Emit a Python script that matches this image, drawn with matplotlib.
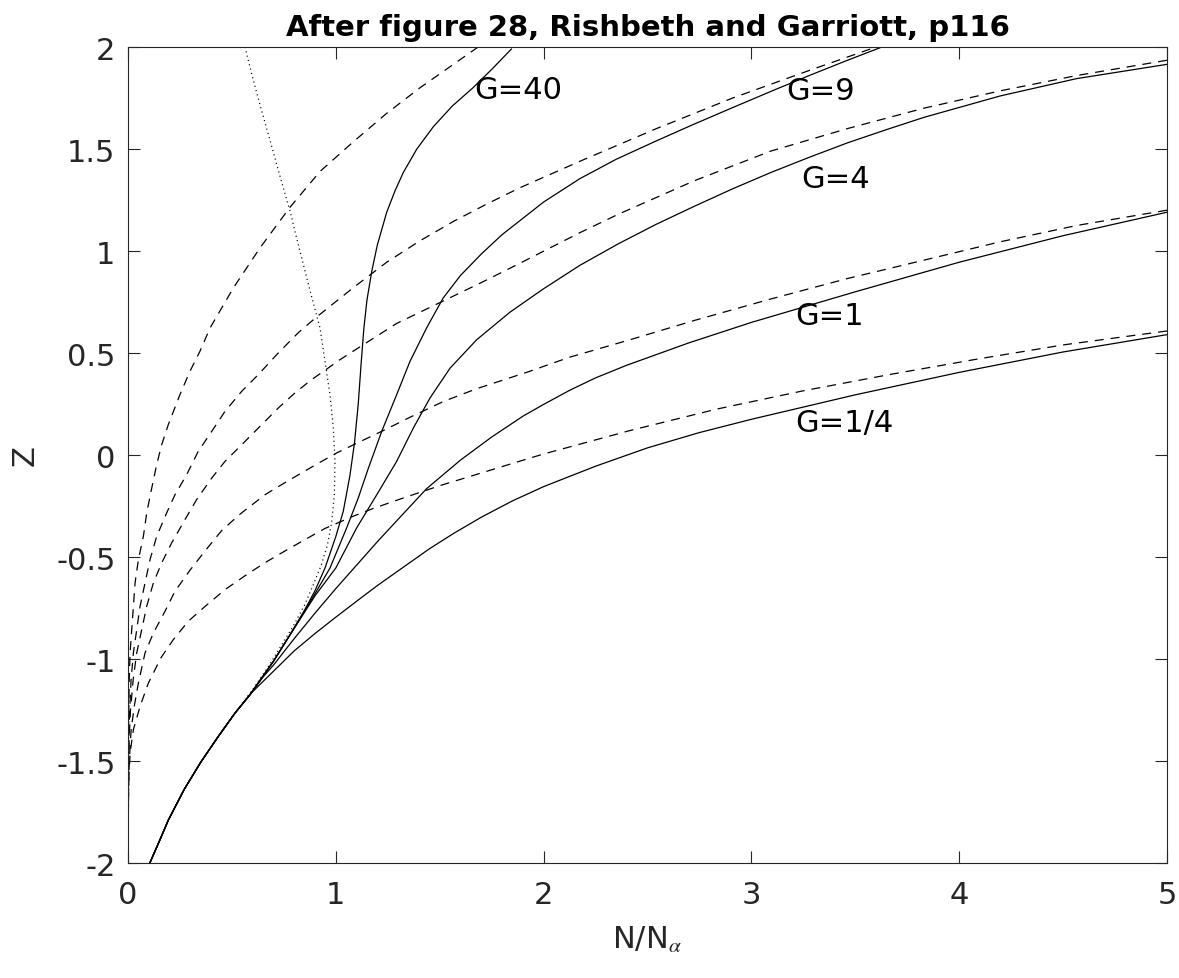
import matplotlib
matplotlib.use("Agg")
import matplotlib.pyplot as plt
from matplotlib.ticker import FuncFormatter

# shared low branch of all solid curves (x = N/Nalpha, z = Z)
base_x = [0.105, 0.15, 0.194, 0.27, 0.35, 0.435, 0.515, 0.587]
base_z = [-2.0, -1.895, -1.79, -1.64, -1.506, -1.379, -1.265, -1.175]

# solid curves above the shared branch
g40_x = [0.7, 0.78, 0.85, 0.9, 0.948, 1.0, 1.036, 1.068, 1.09, 1.108, 1.122, 1.135, 1.15,
         1.173, 1.2, 1.245, 1.285, 1.325, 1.39, 1.47, 1.56, 1.66, 1.75, 1.845]
g40_z = [-1.011, -0.881, -0.76, -0.665, -0.554, -0.40, -0.276, -0.1, 0.06, 0.25, 0.45, 0.62, 0.76,
         0.9, 1.03, 1.19, 1.295, 1.385, 1.5, 1.61, 1.71, 1.8, 1.89, 1.99]

g9_x = [0.7, 0.78, 0.85, 0.9, 0.972, 1.052, 1.108, 1.157, 1.221, 1.293, 1.357, 1.437, 1.517,
        1.6, 1.7, 1.8, 2.0, 2.175, 2.35, 2.543, 2.72, 2.91, 3.1, 3.278, 3.45, 3.628]
g9_z = [-1.011, -0.881, -0.765, -0.68, -0.554, -0.358, -0.211, -0.064, 0.116, 0.296, 0.459, 0.623, 0.77,
        0.88, 0.985, 1.08, 1.24, 1.355, 1.45, 1.54, 1.62, 1.703, 1.785, 1.86, 1.93, 2.0]

g4_x = [0.7, 0.78, 0.85, 0.9, 1.0, 1.1, 1.197, 1.293, 1.373, 1.453, 1.55, 1.678, 1.838, 2.0,
        2.175, 2.359, 2.54, 2.727, 2.91, 3.094, 3.28, 3.462, 3.65, 3.83, 4.197, 4.565, 5.0]
g4_z = [-1.011, -0.881, -0.77, -0.69, -0.554, -0.358, -0.195, -0.031, 0.132, 0.279, 0.426, 0.565, 0.7, 0.815,
        0.93, 1.035, 1.13, 1.22, 1.305, 1.385, 1.46, 1.53, 1.595, 1.655, 1.76, 1.845, 1.915]

g1_x = [0.65, 0.7, 0.8, 0.9, 1.0, 1.1, 1.2, 1.3, 1.437, 1.6, 1.75, 1.9, 2.0, 2.127, 2.25, 2.4, 2.7,
        3.0, 3.5, 4.0, 4.5, 5.0]
g1_z = [-1.088, -1.03, -0.9, -0.775, -0.655, -0.54, -0.425, -0.315, -0.165, -0.025, 0.088, 0.19, 0.248, 0.318, 0.378, 0.44, 0.55,
        0.65, 0.8, 0.945, 1.075, 1.19]

gq_x = [0.6, 0.7, 0.8, 0.9, 1.0, 1.1, 1.2, 1.325, 1.45, 1.566, 1.7, 1.85, 2.0, 2.25, 2.5,
        2.75, 3.0, 3.5, 4.0, 4.5, 5.0]
gq_z = [-1.16, -1.06, -0.96, -0.875, -0.795, -0.717, -0.64, -0.55, -0.46, -0.385, -0.305, -0.225, -0.155, -0.055, 0.035,
        0.11, 0.175, 0.295, 0.405, 0.505, 0.59]

# dashed curves
d40_x = [1.685, 1.566, 1.405, 1.245, 1.084, 0.924, 0.78, 0.635, 0.507, 0.395, 0.346, 0.298, 0.25,
         0.194, 0.162, 0.138, 0.111, 0.09, 0.074, 0.05, 0.034, 0.026, 0.018, 0.01, 0.006, 0.003, 0.001, 0.0]
d40_z = [2.0, 1.915, 1.80, 1.675, 1.535, 1.39, 1.215, 1.015, 0.819, 0.623, 0.508, 0.41, 0.296,
         0.149, 0.05, -0.047, -0.178, -0.284, -0.399, -0.513, -0.627, -0.742, -0.856, -0.97, -1.1, -1.3, -1.6, -2.0]

d9_x = [3.572, 3.278, 2.91, 2.543, 2.175, 1.886, 1.726, 1.566, 1.405, 1.245, 1.084, 0.988, 0.9,
        0.82, 0.723, 0.627, 0.547, 0.467, 0.403, 0.338, 0.282, 0.226, 0.186, 0.138, 0.106, 0.082,
        0.058, 0.042, 0.026, 0.015, 0.008, 0.003, 0.001, 0.0]
d9_z = [1.99, 1.885, 1.75, 1.6, 1.44, 1.31, 1.23, 1.145, 1.05, 0.945, 0.82, 0.742, 0.67,
        0.6, 0.5, 0.394, 0.312, 0.214, 0.116, 0.018, -0.097, -0.195, -0.284, -0.399, -0.513, -0.627,
        -0.742, -0.856, -0.97, -1.1, -1.25, -1.45, -1.7, -2.0]

d4_x = [5.0, 4.565, 4.197, 3.83, 3.462, 3.094, 2.727, 2.359, 2.175, 1.886, 1.71, 1.517, 1.293,
        1.116, 1.012, 0.948, 0.884, 0.804, 0.723, 0.627, 0.547, 0.467, 0.403, 0.33, 0.274, 0.21,
        0.162, 0.122, 0.09, 0.066, 0.042, 0.025, 0.012, 0.005, 0.001, 0.0]
d4_z = [1.935, 1.86, 1.785, 1.70, 1.6, 1.49, 1.345, 1.18, 1.09, 0.94, 0.85, 0.755, 0.645,
        0.53, 0.462, 0.415, 0.37, 0.305, 0.23, 0.132, 0.05, -0.031, -0.113, -0.219, -0.317, -0.431,
        -0.529, -0.627, -0.742, -0.856, -0.97, -1.1, -1.25, -1.4, -1.65, -2.0]

d1_x = [5.0, 4.565, 4.197, 3.83, 3.462, 3.094, 2.727, 2.416, 2.127, 1.918, 1.678, 1.517, 1.357,
        1.229, 1.116, 1.004, 0.908, 0.82, 0.723, 0.659, 0.539, 0.451, 0.371, 0.298, 0.226, 0.178,
        0.122, 0.082, 0.05, 0.03, 0.015, 0.006, 0.001, 0.0]
d1_z = [1.2, 1.125, 1.045, 0.955, 0.865, 0.765, 0.66, 0.565, 0.48, 0.405, 0.325, 0.262, 0.185,
        0.12, 0.065, 0.01, -0.045, -0.097, -0.155, -0.195, -0.29, -0.37, -0.47, -0.565, -0.668, -0.766,
        -0.873, -0.97, -1.118, -1.232, -1.35, -1.5, -1.75, -2.0]

dq_x = [5.0, 4.503, 4.086, 3.668, 3.251, 2.833, 2.416, 2.127, 2.0, 1.87, 1.742, 1.63, 1.517,
        1.405, 1.293, 1.18, 1.084, 0.948, 0.86, 0.756, 0.659, 0.563, 0.467, 0.371, 0.29, 0.218,
        0.158, 0.098, 0.058, 0.026, 0.01, 0.003, 0.0]
dq_z = [0.608, 0.54, 0.47, 0.395, 0.315, 0.225, 0.12, 0.04, 0.005, -0.035, -0.075, -0.11, -0.145,
        -0.183, -0.222, -0.262, -0.3, -0.36, -0.41, -0.47, -0.528, -0.592, -0.66, -0.742, -0.815, -0.905,
        -0.995, -1.118, -1.232, -1.346, -1.461, -1.6, -2.0]

# dotted curve
dot_x = [0.563, 0.6, 0.635, 0.676, 0.716, 0.75, 0.78, 0.81, 0.844, 0.88, 0.924, 0.948, 0.972,
         0.988, 0.996, 0.993, 0.98, 0.96, 0.93, 0.89, 0.85, 0.8, 0.74, 0.68, 0.6, 0.515, 0.435]
dot_z = [2.0, 1.85, 1.717, 1.57, 1.423, 1.3, 1.195, 1.07, 0.933, 0.79, 0.623, 0.459, 0.296,
         0.132, -0.031, -0.195, -0.33, -0.44, -0.54, -0.64, -0.735, -0.83, -0.93, -1.03, -1.15, -1.265, -1.379]

labels = ["G=40", "G=9", "G=4", "G=1", "G=1/4"]
label_x = [1.665, 3.167, 3.241, 3.209, 3.209]
label_z = [1.79, 1.787, 1.353, 0.684, 0.157]

plt.rcParams['font.family'] = ['DejaVu Sans']
plt.rcParams['axes.unicode_minus'] = False
plt.rcParams['mathtext.fontset'] = 'stix'
plt.rcParams['lines.scale_dashes'] = False

ink = '#262626'
fig = plt.figure(figsize=(11.79, 9.79), dpi=100)
ax = fig.add_axes([128 / 1179, 115 / 979, 1039 / 1179, 816 / 979])

lw = 0.9
for xs, zs in [(g40_x, g40_z), (g9_x, g9_z), (g4_x, g4_z), (g1_x, g1_z), (gq_x, gq_z)]:
    ax.plot(base_x + xs, base_z + zs, color='k', lw=lw)
for xs, zs in [(d40_x, d40_z), (d9_x, d9_z), (d4_x, d4_z), (d1_x, d1_z), (dq_x, dq_z)]:
    ax.plot(xs, zs, color='k', lw=lw, dashes=(6.5, 5))
ax.plot(dot_x, dot_z, color='k', lw=lw, linestyle=(0, (0.8, 2.4)))

for t, x, z in zip(labels, label_x, label_z):
    ax.text(x, z, t, fontsize=22, ha='left', va='center', color='k')

ax.set_xlim(0, 5)
ax.set_ylim(-2, 2)
ax.set_xticks([0, 1, 2, 3, 4, 5])
ax.set_yticks([-2, -1.5, -1, -0.5, 0, 0.5, 1, 1.5, 2])
ax.yaxis.set_major_formatter(FuncFormatter(lambda v, p: '%g' % v))
ax.xaxis.set_major_formatter(FuncFormatter(lambda v, p: '%g' % v))
ax.tick_params(direction='in', top=True, right=True, length=8.5, width=0.8,
               labelsize=22, colors=ink, pad=12)
ax.tick_params(axis='y', pad=9)
for s in ax.spines.values():
    s.set_color(ink)
    s.set_linewidth(0.8)

ax.set_title('After figure 28, Rishbeth and Garriott, p116', fontsize=21,
             fontweight='bold', pad=8.6)
ax.set_xlabel(r'N/N$_{\alpha}$', fontsize=22, color=ink)
ax.set_ylabel('Z', fontsize=22, color=ink)
ax.xaxis.set_label_coords(0.5, -0.075)
ax.yaxis.set_label_coords(-0.085, 0.5)

fig.savefig('out.png', dpi=100)
